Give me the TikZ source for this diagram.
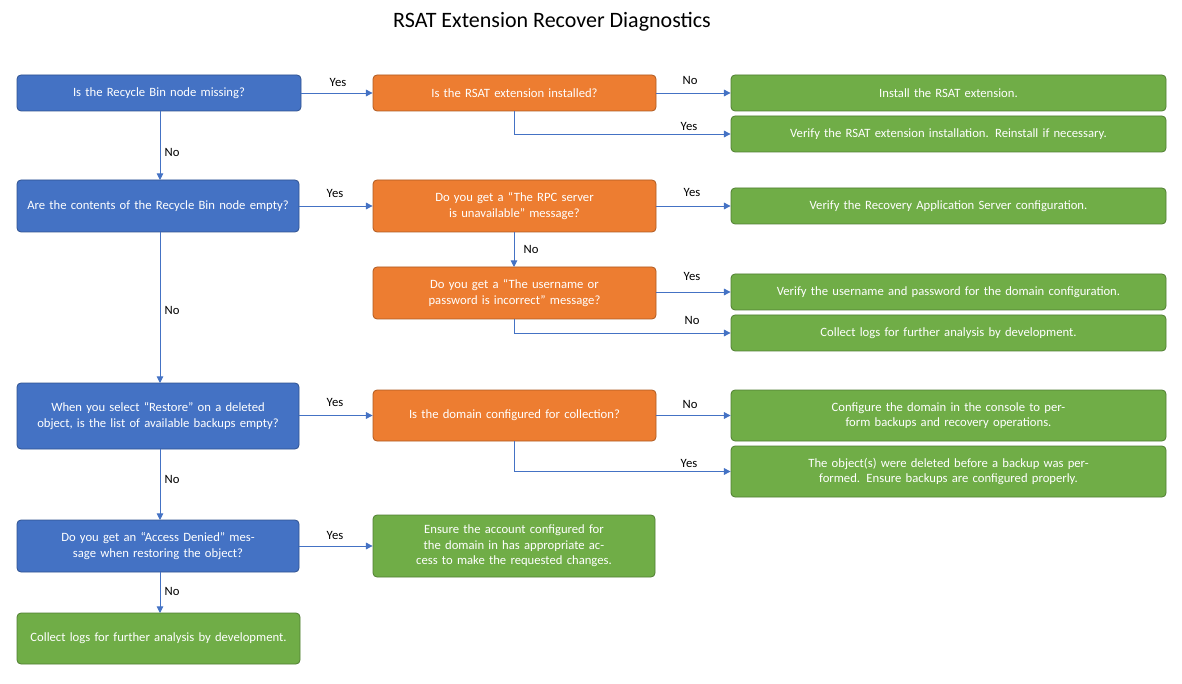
\documentclass[tikz,border=0pt]{standalone}
\usepackage{fontspec}
\setmainfont{Carlito}
\usetikzlibrary{arrows.meta}
\definecolor{cb}{HTML}{4472C4}\definecolor{cbd}{HTML}{2F528F}
\definecolor{co}{HTML}{ED7D31}\definecolor{cod}{HTML}{AE5A21}
\definecolor{cg}{HTML}{70AD47}\definecolor{cgd}{HTML}{507E32}
\begin{document}
\begin{tikzpicture}[x=0.75pt,y=-0.75pt,
 box/.style={rounded corners=3pt,line width=0.6pt,text=white,align=center,font=\fontsize{9.5}{11.5}\selectfont,inner sep=2pt},
 bl/.style={box,fill=cb,draw=cbd},
 or/.style={box,fill=co,draw=cod},
 gr/.style={box,fill=cg,draw=cgd},
 ar/.style={draw=cb,line width=0.7pt,-{Triangle[length=5pt,width=5pt]}},
 lb/.style={font=\fontsize{9.5}{11}\selectfont,inner sep=0pt}]
\useasboundingbox (0,0) rectangle (1182,684);
\node[font=\fontsize{16.5}{20}\selectfont] (title) at (552,22) {RSAT Extension Recover Diagnostics};
\newcommand{\bx}[7]{\node[#1,minimum width={(#4-#3)*0.75pt},minimum height={(#6-#5)*0.75pt},text width={(#4-#3-20)*0.75pt}] (#2) at ({(#3+#4)/2},{(#5+#6)/2}) {#7};}
\bx{bl}{b1}{17}{301}{75}{111}{Is the Recycle Bin node missing?}
\bx{bl}{b2}{17}{299}{180}{232}{Are the contents of the Recycle Bin node empty?}
\bx{bl}{b3}{17}{299}{383}{449}{When you select “Restore” on a deleted object, is the list of available backups empty?}
\bx{bl}{b4}{17}{299}{520}{572}{Do you get an “Access Denied” message when restoring the object?}
\bx{gr}{b5}{17}{300}{613}{664}{Collect logs for further analysis by development.}
\bx{or}{o1}{373}{656}{75}{111}{Is the RSAT extension installed?}
\bx{or}{o2}{373}{656}{180}{232}{Do you get a “The RPC server is unavailable” message?}
\bx{or}{o3}{373}{656}{267}{319}{Do you get a “The username or password is incorrect” message?}
\bx{or}{o4}{373}{656}{390}{441}{Is the domain configured for collection?}
\bx{gr}{o5}{373}{655}{515}{577}{Ensure the account configured for the domain in has appropriate access to make the requested changes.}
\bx{gr}{g1}{731}{1166}{75}{111}{Install the RSAT extension.}
\bx{gr}{g2}{731}{1166}{116}{152}{Verify the RSAT extension installation. Reinstall if necessary.}
\bx{gr}{g3}{731}{1166}{188}{224}{Verify the Recovery Application Server configuration.}
\bx{gr}{g4}{731}{1166}{274}{310}{Verify the username and password for the domain configuration.}
\bx{gr}{g5}{731}{1166}{315}{351}{Collect logs for further analysis by development.}
\bx{gr}{g6}{731}{1166}{390}{441}{Configure the domain in the console to perform backups and recovery operations.}
\bx{gr}{g7}{731}{1166}{446}{497}{The object(s) were deleted before a backup was performed. Ensure backups are configured properly.}
% vertical
\draw[ar] (160,111) -- (160,180);
\draw[ar] (160,232) -- (160,383);
\draw[ar] (160,449) -- (160,520);
\draw[ar] (160,572) -- (160,613);
\draw[ar] (514,232) -- (514,267);
% horizontal
\draw[ar] (b1.east) -- (o1.west);
\draw[ar] (b2.east) -- (o2.west);
\draw[ar] (b3.east|-o4.west) -- (o4.west);
\draw[ar] (b4.east) -- (o5.west|-b4.east);
\draw[ar] (o1.east) -- (g1.west);
\draw[ar] (o2.east|-g3.west) -- (g3.west);
\draw[ar] (o3.east|-g4.west) -- (g4.west);
\draw[ar] (o4.east|-g6.west) -- (g6.west);
\draw[ar] (514,111) |- (g2.west);
\draw[ar] (514,319) |- (g5.west);
\draw[ar] (514,441) |- (g7.west);
\foreach \t/\x/\y in {Yes/338/82,No/690/80,Yes/689/126,No/172/152,Yes/335/193,Yes/692/192,No/531/249,Yes/692/276,No/692/320,No/172/310,Yes/335/402,No/690/404,Yes/689/463,No/172/479,Yes/335/535,No/172/591}
  \node[lb] at (\x,\y) {\t};
\end{tikzpicture}
\end{document}
